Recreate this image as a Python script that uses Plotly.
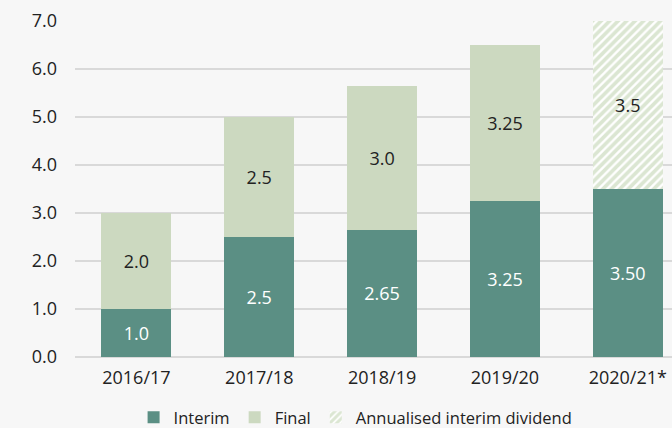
import plotly.graph_objects as go

categories = ["2016/17", "2017/18", "2018/19", "2019/20", "2020/21*"]
interim = [1.0, 2.5, 2.65, 3.25, 3.50]
interim_labels = ["1.0", "2.5", "2.65", "3.25", "3.50"]
final = [2.0, 2.5, 3.0, 3.25, None]
final_labels = ["2.0", "2.5", "3.0", "3.25", ""]
annualised = [None, None, None, None, 3.5]
annualised_labels = ["", "", "", "", "3.5"]

FONT = "Open Sans, Noto Sans, sans-serif"
FS = 18
C_INT = "#5b8f84"
C_FIN = "#ccd9c0"

fig = go.Figure()
fig.add_trace(go.Bar(x=categories, y=interim, name="Interim", marker=dict(color=C_INT, line=dict(width=0)),
                     text=interim_labels, textposition="inside", insidetextanchor="middle",
                     textfont=dict(color="white", size=FS, family=FONT), hoverinfo="skip"))
fig.add_trace(go.Bar(x=categories, y=final, name="Final", marker=dict(color=C_FIN, line=dict(width=0)),
                     text=final_labels, textposition="inside", insidetextanchor="middle",
                     textfont=dict(color="#222222", size=FS, family=FONT), hoverinfo="skip"))
fig.add_trace(go.Bar(x=categories, y=annualised, name="Annualised interim dividend",
                     marker=dict(color="white", line=dict(width=0),
                                 pattern=dict(shape="/", fgcolor="#b8cda6", bgcolor="white", size=6, solidity=0.62)),
                     text=annualised_labels, textposition="inside", insidetextanchor="middle",
                     textfont=dict(color="#222222", size=FS, family=FONT), hoverinfo="skip"))

fig.update_layout(
    width=672, height=428, barmode="stack", bargap=0.43,
    paper_bgcolor="#f7f7f7", plot_bgcolor="#f7f7f7",
    margin=dict(l=75, r=0, t=21, b=71, autoexpand=False),
    font=dict(family=FONT, size=FS, color="#222222"),
    uniformtext=dict(mode="show", minsize=FS),
    legend=dict(orientation="h", x=0.47, xanchor="center", y=-0.18, yanchor="middle",
                font=dict(size=16.5), itemwidth=30, traceorder="normal", bgcolor="rgba(0,0,0,0)",
                tracegroupgap=0),
    showlegend=True,
)
fig.update_xaxes(range=[-0.5, 4.36], showgrid=False, showline=False, ticks="", ticklabelstandoff=8,
                 tickfont=dict(size=FS))
fig.update_yaxes(range=[0, 7], dtick=1, tickformat=".1f", showgrid=True, gridcolor="#d9d9d9", gridwidth=2,
                 zeroline=True, zerolinecolor="#d9d9d9", zerolinewidth=2, ticks="", ticklabelstandoff=17,
                 tickfont=dict(size=FS))

fig.write_html("out.html", config={"displayModeBar": False},
               post_script="document.body.style.margin='0';document.body.style.overflow='hidden';")
